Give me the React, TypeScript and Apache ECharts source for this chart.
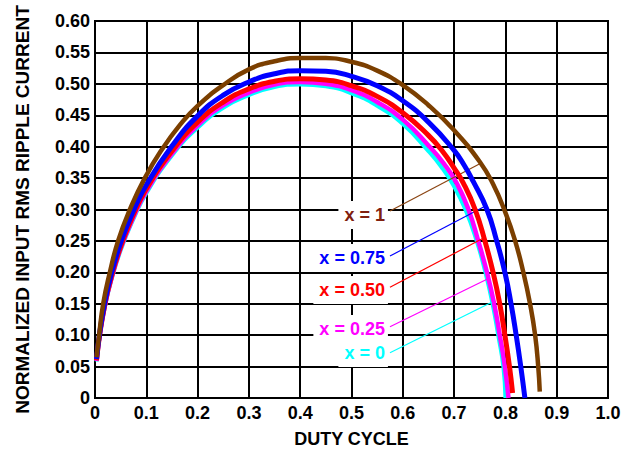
import React, { useEffect, useRef } from "react";
import * as echarts from "echarts";

// Curves: [duty cycle, normalized input RMS ripple current]
const curveX0: [number, number][] = [
  [0.003, 0.058], [0.01, 0.104], [0.02, 0.148], [0.03, 0.182], [0.05, 0.235], [0.075, 0.285],
  [0.1, 0.326], [0.15, 0.386], [0.2, 0.43], [0.25, 0.462], [0.3, 0.482], [0.35, 0.495],
  [0.4, 0.499], [0.45, 0.496], [0.5, 0.485], [0.55, 0.465], [0.6, 0.436], [0.65, 0.393],
  [0.675, 0.368], [0.699, 0.338], [0.722, 0.3], [0.744, 0.25], [0.761, 0.2], [0.775, 0.15],
  [0.786, 0.1], [0.796, 0.05], [0.8, 0.0],
];
const curveX025: [number, number][] = [
  [0.003, 0.059], [0.01, 0.105], [0.02, 0.15], [0.03, 0.184], [0.05, 0.238], [0.075, 0.288],
  [0.1, 0.329], [0.15, 0.389], [0.2, 0.434], [0.25, 0.466], [0.3, 0.486], [0.35, 0.499],
  [0.4, 0.503], [0.45, 0.5], [0.5, 0.49], [0.55, 0.471], [0.6, 0.443], [0.65, 0.402],
  [0.68, 0.373], [0.705, 0.342], [0.728, 0.3], [0.747, 0.25], [0.764, 0.2], [0.778, 0.15],
  [0.789, 0.1], [0.799, 0.05], [0.806, 0.0],
];
const curveX050: [number, number][] = [
  [0.003, 0.06], [0.01, 0.106], [0.02, 0.152], [0.03, 0.187], [0.05, 0.241], [0.075, 0.292],
  [0.1, 0.333], [0.15, 0.393], [0.2, 0.439], [0.25, 0.471], [0.3, 0.492], [0.35, 0.504],
  [0.4, 0.508], [0.45, 0.506], [0.5, 0.497], [0.55, 0.48], [0.6, 0.454], [0.65, 0.418],
  [0.677, 0.393], [0.7, 0.366], [0.718, 0.342], [0.741, 0.3], [0.76, 0.25], [0.776, 0.2],
  [0.789, 0.15], [0.799, 0.1], [0.808, 0.05], [0.814, 0.008],
];
const curveX075: [number, number][] = [
  [0.003, 0.062], [0.01, 0.109], [0.02, 0.156], [0.03, 0.192], [0.05, 0.247], [0.075, 0.298],
  [0.1, 0.339], [0.15, 0.401], [0.2, 0.449], [0.25, 0.482], [0.3, 0.503], [0.35, 0.516],
  [0.4, 0.521], [0.45, 0.52], [0.5, 0.512], [0.55, 0.497], [0.6, 0.473], [0.65, 0.439],
  [0.7, 0.394], [0.72, 0.37], [0.737, 0.345], [0.764, 0.3], [0.783, 0.25], [0.799, 0.2],
  [0.811, 0.15], [0.821, 0.1], [0.83, 0.05], [0.838, 0.0],
];
const curveX1: [number, number][] = [
  [0.003, 0.065], [0.008, 0.1], [0.016, 0.15], [0.029, 0.2], [0.045, 0.25], [0.068, 0.3],
  [0.097, 0.35], [0.13, 0.395], [0.166, 0.435], [0.2, 0.465], [0.25, 0.498], [0.3, 0.523],
  [0.35, 0.536], [0.4, 0.541], [0.45, 0.541], [0.5, 0.535], [0.55, 0.521], [0.6, 0.498],
  [0.65, 0.466], [0.7, 0.426], [0.75, 0.376], [0.775, 0.342], [0.8, 0.295], [0.819, 0.25],
  [0.835, 0.2], [0.848, 0.15], [0.858, 0.1], [0.864, 0.05], [0.867, 0.01],
];

const seriesNames = ["x = 0", "x = 0.25", "x = 0.50", "x = 0.75", "x = 1"];
const seriesData = [curveX0, curveX025, curveX050, curveX075, curveX1];

// Annotation anchors in data coordinates
const labelAnchors: [number, number][] = [
  [0.572, 0.0716], [0.572, 0.1098], [0.572, 0.1719], [0.572, 0.2228], [0.572, 0.2913],
];
const arrowStarts: [number, number][] = [
  [0.575, 0.0721], [0.575, 0.1135], [0.575, 0.1762], [0.575, 0.226], [0.575, 0.2976],
];
const arrowTips: [number, number][] = [
  [0.7733, 0.1523], [0.77, 0.1915], [0.7602, 0.2558], [0.7583, 0.3045], [0.7538, 0.3745],
];

const lineColors = ["#00FFFF", "#FF00FF", "#FF0000", "#0000FF", "#7B3F00"];
const lineWidths = [4, 4.5, 5, 5, 4.5];
const labelColors = ["#00FFFF", "#FF00FF", "#FF0000", "#0000FF", "#80200F"];
const arrowColors = ["#00FFFF", "#FF00FF", "#FF0000", "#0000FF", "#8B4513"];

const FONT = "'Liberation Sans', Arial, Helvetica, sans-serif";

export default function App() {
  const ref = useRef<HTMLDivElement>(null);
  useEffect(() => {
    if (!ref.current) return;
    const chart = echarts.init(ref.current, undefined, { renderer: "svg" });
    const series = seriesData.map((data, i) => ({
      name: seriesNames[i],
      type: "line",
      data,
      smooth: 0.5,
      showSymbol: false,
      symbol: "none",
      silent: true,
      z: 3 + i,
      lineStyle: { color: lineColors[i], width: lineWidths[i] },
      markLine: {
        silent: true,
        animation: false,
        symbol: ["none", "arrow"],
        symbolSize: [0, 14],
        label: { show: false },
        lineStyle: { color: arrowColors[i], width: 1.2, type: "solid" },
        emphasis: { disabled: true },
        data: [[{ coord: arrowStarts[i] }, { coord: arrowTips[i] }]],
      },
      markPoint: {
        silent: true,
        animation: false,
        symbol: "rect",
        symbolSize: 1,
        itemStyle: { color: "rgba(0,0,0,0)" },
        data: [
          {
            coord: labelAnchors[i],
            label: {
              show: true,
              position: "left",
              distance: 0,
              formatter: seriesNames[i],
              color: labelColors[i],
              fontSize: 18,
              fontWeight: "bold",
              fontFamily: FONT,
              backgroundColor: "#FFFFFF",
              padding: [5, 3, 5, 6],
            },
          },
        ],
      },
    }));
    chart.setOption({
      animation: false,
      backgroundColor: "#FFFFFF",
      grid: {
        left: 95,
        right: 33,
        top: 21,
        bottom: 51,
        outerBoundsMode: "none",
        containLabel: false,
        show: true,
        borderColor: "#000",
        borderWidth: 2,
        backgroundColor: "transparent",
      },
      xAxis: {
        type: "value",
        min: 0,
        max: 1,
        interval: 0.1,
        name: "DUTY CYCLE",
        nameLocation: "middle",
        nameGap: 32,
        nameTextStyle: {
          color: "#000",
          fontSize: 18,
          lineHeight: 18,
          fontWeight: "bold",
          fontFamily: FONT,
        },
        axisLine: { show: true, lineStyle: { color: "#000", width: 2 } },
        axisTick: { show: false },
        axisLabel: {
          color: "#000",
          fontSize: 18,
          fontWeight: "bold",
          fontFamily: FONT,
          margin: 6,
          formatter: (v: number) => (v === 0 ? "0" : v.toFixed(1)),
        },
        splitLine: { show: true, lineStyle: { color: "#000", width: 2 } },
      },
      yAxis: {
        type: "value",
        min: 0,
        max: 0.6,
        interval: 0.05,
        name: "NORMALIZED INPUT RMS RIPPLE CURRENT",
        nameLocation: "middle",
        nameGap: 63,
        nameTextStyle: { color: "#000", fontSize: 19, fontWeight: "bold", fontFamily: FONT },
        axisLine: { show: true, lineStyle: { color: "#000", width: 2 } },
        axisTick: { show: false },
        axisLabel: {
          color: "#000",
          fontSize: 18,
          fontWeight: "bold",
          fontFamily: FONT,
          margin: 5,
          formatter: (v: number) => (v === 0 ? "0" : v.toFixed(2)),
        },
        splitLine: { show: true, lineStyle: { color: "#000", width: 2 } },
      },
      series,
    });
    return () => chart.dispose();
  }, []);
  return (
    <div
      ref={ref}
      style={{ position: "fixed", left: 0, top: 0, width: 641, height: 449, background: "#fff" }}
    />
  );
}
